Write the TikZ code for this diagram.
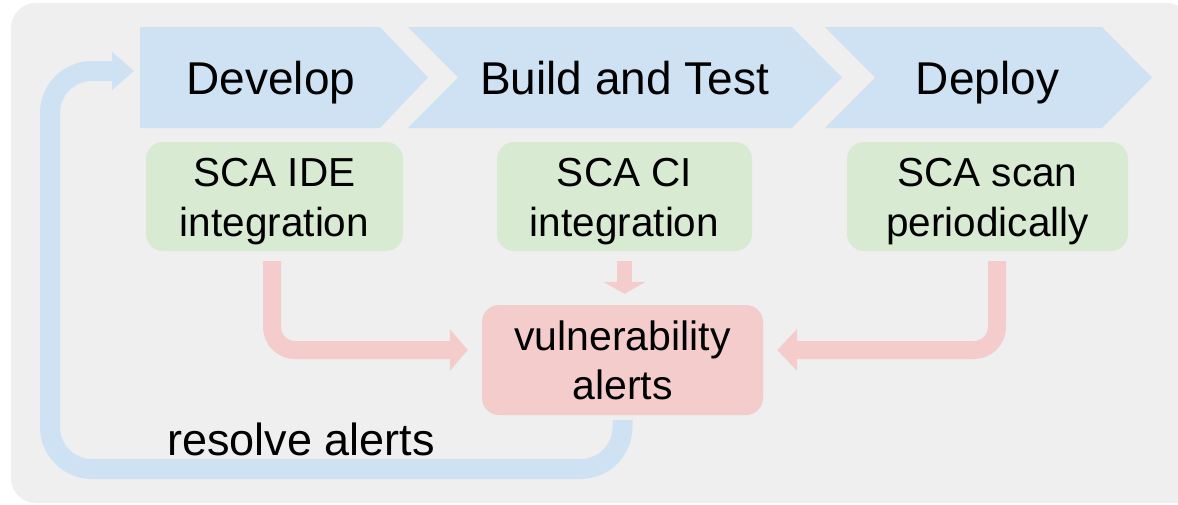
\documentclass[tikz,border=0pt]{standalone}
\usepackage{fontspec}
\setmainfont{Liberation Sans}
\usetikzlibrary{arrows.meta}

\definecolor{panelgray}{HTML}{EFEFEF}
\definecolor{stageblue}{HTML}{CFE2F3}
\definecolor{toolgreen}{HTML}{D9EAD3}
\definecolor{alertred}{HTML}{F4CCCC}

\newcommand{\stagefont}{\fontsize{46}{55}\selectfont}
\newcommand{\toolfont}{\fontsize{40.5}{50}\selectfont}
\newcommand{\alertfont}{\fontsize{41}{49}\selectfont}
\newcommand{\loopfont}{\fontsize{45}{54}\selectfont}

\begin{document}
\begin{tikzpicture}[x=1pt, y=-1pt,
  stagelabel/.style={font=\stagefont, anchor=base, inner sep=0pt},
  toolbox/.style={fill=toolgreen, rounded corners=17pt, minimum width=#1,
    minimum height=109pt, inner sep=0pt},
  tooltext/.style={font=\toolfont, align=center, inner sep=0pt},
  alertbox/.style={fill=alertred, rounded corners=17pt, minimum width=281pt,
    minimum height=110pt, inner sep=0pt, font=\alertfont, align=center},
  feed/.style={draw=alertred, line width=18pt},
  feedtip/.style={-{Triangle[length=#1,width=41pt]}},
  loopline/.style={draw=stageblue, line width=20pt,
    -{Triangle[length=22pt,width=37pt]}},
]
\useasboundingbox (0,0) rectangle (1178,504);

% panel
\fill[panelgray, rounded corners=25pt] (11,3) rectangle (1192,503);
\fill[panelgray] (1150,460) rectangle (1192,503);

% pipeline stages
\fill[stageblue] (140,27) -- (380,27) -- (428,77.5) -- (380,128) -- (140,128) -- cycle;
\fill[stageblue] (408,27) -- (792,27) -- (842,77.5) -- (792,128) -- (408,128) -- (458,77.5) -- cycle;
\fill[stageblue] (825,27) -- (1102,27) -- (1152,77.5) -- (1102,128) -- (825,128) -- (875,77.5) -- cycle;
\node[stagelabel] (develop) at (271,94) {Develop};
\node[stagelabel] (buildtest) at (624.5,94) {Build and Test};
\node[stagelabel] (deploy) at (987.5,94) {Deploy};
\coordinate (devin) at (134,71);

% SCA tools per stage
\node[toolbox=257pt] (idebox) at (274.5,196.5) {};
\node[tooltext] (idetext) at (274.5,201.75) {SCA IDE\\integration};
\node[toolbox=255pt] (cibox) at (624.5,196.5) {};
\node[tooltext] (citext) at (624.5,201.75) {SCA CI\\integration};
\node[toolbox=281pt] (scanbox) at (987.5,196.5) {};
\node[tooltext] (scantext) at (987.5,201.75) {SCA scan\\periodically};

% alerts
\node[alertbox] (alerts) at (622.5,360) {vulnerability\\alerts};

% tools feed the alerts
\draw[feed, feedtip=18pt, rounded corners=23pt]
  ([xshift=-2.5pt,yshift=-10pt]idebox.south) |- ([xshift=-14pt,yshift=10pt]alerts.west);
\draw[feed, feedtip=20pt, rounded corners=23pt]
  ([xshift=9.5pt,yshift=-10pt]scanbox.south) |- ([xshift=14pt,yshift=10pt]alerts.east);
\draw[feed, line width=15pt, -{Triangle[length=12pt,width=42pt]}]
  ([yshift=-10pt]cibox.south) -- ([yshift=11pt]cibox.south |- alerts.north);

% feedback loop back to development
\draw[loopline, rounded corners=42pt]
  ([yshift=-5pt]alerts.south) |- (50,469) |- (devin);
\node[font=\loopfont, anchor=base, inner sep=0pt] (resolve) at (301,455) {resolve alerts};
\end{tikzpicture}
\end{document}
